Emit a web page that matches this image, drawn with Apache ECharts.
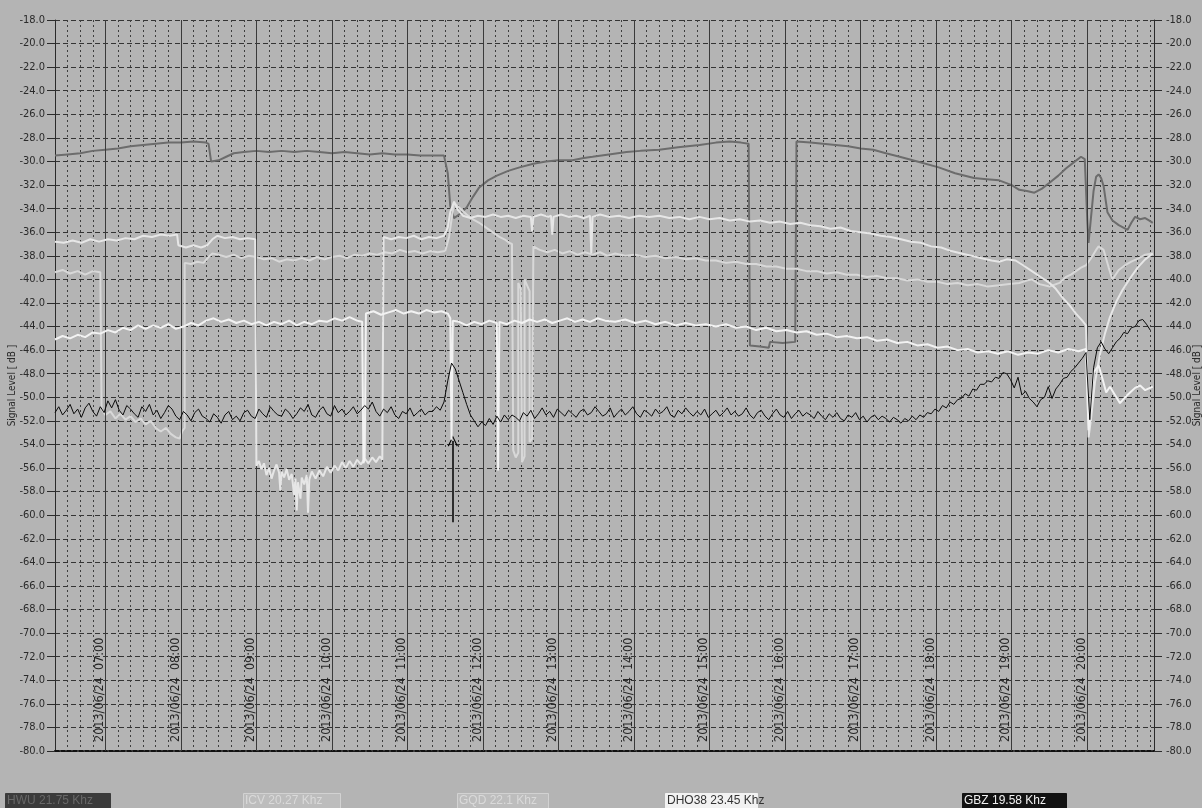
<!DOCTYPE html>
<html><head><meta charset="utf-8">
<script src="https://cdn.jsdelivr.net/npm/echarts@6/dist/echarts.min.js"></script>
<style>html,body{margin:0;padding:0;background:#b4b4b4}#c{width:1202px;height:808px}</style>
</head><body><div id="c"></div>
<script>
// ---------------- DATA ----------------
const DATE = '2013/06/24';
const xStart = '06:20';
const xEnd = '20:53';
const hourTicks = ['07:00','08:00','09:00','10:00','11:00','12:00','13:00','14:00','15:00','16:00','17:00','18:00','19:00','20:00'];
const yMin = -80, yMax = -18, yStep = 2;
const yName = 'Signal Level [ dB ]';
const legendNames = ['HWU 21.75 Khz','ICV 20.27 Khz','GQD 22.1 Khz','DHO38 23.45 Khz','GBZ 19.58 Khz'];

// GBZ (black) sampled every 3 minutes from 06:20
const gbzStart = '06:20';
const gbzStep = 3;
const gbzValues = [
 -51.3,-50.8,-51.5,-51.1,-50.6,-51.4,-51.0,-51.7,-50.9,-50.5,-51.2,-51.6,-50.8,-51.3,-50.3,-50.9,-50.2,-51.1,-51.5,-50.7,
 -51.0,-51.4,-51.7,-50.8,-51.2,-50.6,-51.5,-51.1,-51.8,-51.3,-50.7,-51.0,-51.6,-51.9,-51.2,-51.5,-52.0,-51.3,-51.0,-51.6,
 -51.8,-52.1,-51.4,-51.7,-52.2,-51.5,-51.2,-51.9,-51.6,-52.0,-51.3,-51.1,-51.6,-51.8,-51.0,-51.4,-51.7,-50.8,-51.2,-51.5,
 -51.6,-51.0,-51.3,-51.8,-51.4,-50.9,-51.2,-50.6,-51.5,-51.7,-51.1,-50.8,-51.4,-51.6,-50.7,-51.3,-51.0,-51.5,-51.2,-50.8,
 -51.4,-51.1,-50.7,-51.0,-50.4,-51.2,-51.6,-51.0,-51.3,-50.8,-51.5,-51.8,-51.2,-51.4,-50.9,-51.6,-51.3,-51.0,-51.5,-51.2,
 -51.2,-50.8,-51.1,-50.4,-48.6,-47.1,-47.6,-48.6,-49.6,-50.6,-51.5,-52.0,-52.5,-52.1,-52.4,-51.8,-52.3,-51.6,-52.1,-51.5,
 -51.9,-51.5,-51.7,-52.0,-51.3,-51.6,-51.1,-51.8,-51.4,-50.9,-51.5,-51.2,-51.7,-51.0,-51.3,-51.6,-51.1,-51.4,-51.7,-51.2,
 -51.0,-51.5,-51.3,-50.8,-51.2,-51.6,-51.4,-50.9,-51.7,-51.3,-51.0,-51.5,-51.2,-50.8,-51.4,-51.7,-51.1,-51.3,-51.6,-51.0,
 -51.4,-51.2,-50.8,-51.5,-51.7,-51.1,-51.4,-50.9,-51.3,-51.6,-51.2,-51.5,-51.0,-51.7,-51.4,-51.1,-51.6,-51.3,-50.9,-51.5,
 -51.2,-51.6,-51.4,-50.9,-51.5,-51.8,-51.3,-51.1,-51.6,-51.9,-51.4,-51.0,-51.5,-51.7,-51.2,-51.8,-51.4,-51.1,-51.6,-51.3,
 -51.5,-51.8,-51.2,-51.6,-51.9,-51.4,-51.7,-51.3,-51.8,-52.0,-51.5,-51.7,-51.3,-51.9,-51.6,-52.1,-51.7,-51.5,-51.9,-51.6,
 -51.8,-52.1,-51.7,-51.9,-52.2,-51.8,-52.0,-51.6,-51.9,-51.5,-51.7,-51.3,-51.4,-51.0,-51.2,-50.7,-50.9,-50.4,-50.6,-50.2,
 -50.1,-49.7,-49.9,-49.3,-49.4,-48.9,-48.9,-48.6,-48.7,-48.3,-48.4,-47.9,-48.0,-48.5,-49.2,-48.3,-49.8,-49.5,-50.1,-50.4,
 -50.8,-50.2,-50.0,-49.1,-50.1,-49.3,-48.9,-48.4,-48.3,-47.8,-47.5,-47.1,-46.7,-46.2,-51.9,-47.5,-45.8,-45.3,-45.9,-46.3,
 -45.8,-45.3,-45.0,-44.5,-44.6,-44.1,-44.0,-43.5,-43.4,-43.8,-44.3
];

// HWU (dark grey) [time, dB]
const hwuPoints = [
 ['06:20',-29.5],['06:30',-29.4],['06:40',-29.3],['06:50',-29.1],['07:00',-29.0],['07:10',-28.9],['07:20',-28.7],['07:30',-28.6],
 ['07:40',-28.5],['07:50',-28.4],['08:00',-28.4],['08:10',-28.3],['08:20',-28.4],['08:22',-28.5],['08:24',-30.0],['08:30',-29.9],
 ['08:36',-29.6],['08:42',-29.3],['08:50',-29.2],['09:00',-29.1],['09:10',-29.2],['09:20',-29.1],['09:30',-29.2],['09:40',-29.1],
 ['09:50',-29.2],['10:00',-29.3],['10:10',-29.2],['10:20',-29.3],['10:30',-29.4],['10:40',-29.3],['10:50',-29.4],['11:00',-29.4],
 ['11:10',-29.5],['11:20',-29.5],['11:29',-29.5],['11:32',-31.0],['11:34',-33.8],['11:37',-34.8],['11:41',-34.5],['11:47',-33.9],
 ['11:52',-33.0],['11:57',-32.2],['12:04',-31.6],['12:11',-31.2],['12:20',-30.8],['12:29',-30.5],['12:40',-30.2],['12:50',-30.0],
 ['13:00',-29.9],['13:11',-29.9],['13:20',-29.7],['13:27',-29.6],['13:40',-29.4],['13:54',-29.2],['14:05',-29.1],['14:20',-29.0],
 ['14:35',-28.8],['14:52',-28.6],['15:05',-28.4],['15:16',-28.3],['15:25',-28.4],['15:31',-28.5],['15:32',-45.6],['15:40',-45.7],
 ['15:47',-45.8],['15:48',-45.3],['15:58',-45.4],['16:08',-45.3],['16:09',-28.3],['16:20',-28.4],['16:30',-28.5],['16:40',-28.6],
 ['16:50',-28.7],['17:00',-28.9],['17:10',-29.0],['17:20',-29.3],['17:31',-29.6],['17:45',-30.0],['18:02',-30.5],['18:15',-31.0],
 ['18:30',-31.4],['18:40',-31.5],['18:50',-31.6],['19:00',-32.0],['19:06',-32.4],['19:12',-32.5],['19:18',-32.65],['19:24',-32.3],
 ['19:30',-31.8],['19:37',-31.2],['19:43',-30.6],['19:49',-30.1],['19:55',-29.6],['19:58',-29.8],['19:59',-29.9],['20:00',-35.0],
 ['20:01',-36.9],['20:03',-34.7],['20:05',-32.5],['20:07',-31.3],['20:09',-31.1],['20:11',-31.4],['20:13',-32.1],['20:16',-34.3],
 ['20:20',-35.0],['20:25',-35.4],['20:32',-35.8],['20:35',-35.2],['20:38',-34.7],['20:42',-34.9],['20:46',-34.8],['20:49',-35.0],['20:52',-35.2]
];

// ICV (light grey) [time, dB]
const icvPoints = [
 ['06:20',-39.4],['06:26',-39.2],['06:32',-39.5],['06:38',-39.3],['06:44',-39.6],['06:50',-39.3],['06:56',-39.4],['06:57',-51.0],
 ['07:00',-51.5],['07:04',-51.2],['07:08',-51.8],['07:12',-51.4],['07:16',-51.9],['07:20',-51.6],['07:24',-52.1],['07:28',-51.8],
 ['07:32',-52.3],['07:36',-52.0],['07:40',-52.6],['07:44',-52.9],['07:48',-52.6],['07:52',-53.1],['07:56',-53.4],['07:59',-53.5],
 ['08:01',-52.9],['08:03',-52.6],['08:03',-38.6],['08:08',-38.7],['08:13',-38.5],['08:18',-38.6],['08:22',-38.1],['08:25',-37.8],
 ['08:30',-37.9],['08:36',-38.1],['08:42',-37.9],['08:48',-38.2],['08:54',-38.0],['09:00',-38.1],['09:06',-38.3],['09:12',-38.2],
 ['09:18',-38.5],['09:24',-38.3],['09:30',-38.4],['09:36',-38.2],['09:42',-38.4],['09:48',-38.1],['09:54',-38.3],['10:00',-38.1],
 ['10:06',-38.0],['10:12',-38.2],['10:18',-37.9],['10:24',-38.0],['10:30',-37.8],['10:36',-37.9],['10:42',-37.7],['10:48',-37.8],
 ['10:54',-37.5],['11:00',-37.7],['11:06',-37.6],['11:12',-37.8],['11:18',-37.6],['11:24',-37.7],['11:30',-37.6],['11:33',-36.4],
 ['11:35',-34.9],['11:37',-33.5],['11:41',-33.9],['11:47',-34.5],['11:52',-34.9],['11:57',-35.2],['12:01',-35.5],['12:05',-35.8],
 ['12:09',-36.1],['12:13',-36.4],['12:17',-36.6],['12:21',-36.9],['12:23',-37.0],['12:24',-54.5],['12:26',-55.1],['12:28',-54.7],
 ['12:28',-40.3],['12:30',-40.8],['12:31',-55.5],['12:33',-55.0],['12:33',-40.0],['12:35',-40.5],['12:37',-41.0],['12:37',-53.8],
 ['12:39',-53.5],['12:40',-37.2],['12:45',-37.5],['12:51',-37.7],['12:57',-37.5],['13:03',-37.8],['13:09',-37.6],['13:15',-37.9],
 ['13:21',-37.7],['13:27',-37.9],['13:33',-37.7],['13:39',-38.0],['13:45',-37.8],['13:53',-38.0],['14:01',-37.9],['14:09',-38.1],
 ['14:17',-38.0],['14:25',-38.2],['14:33',-38.1],['14:41',-38.3],['14:49',-38.2],['14:57',-38.4],['15:05',-38.4],['15:13',-38.6],
 ['15:21',-38.5],['15:29',-38.7],['15:37',-38.7],['15:45',-38.9],['15:53',-38.9],['16:01',-39.1],['16:09',-39.1],['16:17',-39.3],
 ['16:25',-39.3],['16:33',-39.5],['16:41',-39.4],['16:49',-39.6],['16:57',-39.6],['17:05',-39.8],['17:13',-39.7],['17:21',-39.9],
 ['17:29',-39.9],['17:37',-40.1],['17:45',-40.0],['17:53',-40.2],['18:01',-40.2],['18:09',-40.4],['18:17',-40.3],['18:25',-40.5],
 ['18:33',-40.4],['18:41',-40.6],['18:50',-40.5],['18:58',-40.4],['19:06',-40.3],['19:12',-40.1],['19:16',-40.0],['19:22',-40.4],
 ['19:30',-40.6],['19:38',-40.3],['19:43',-39.8],['19:47',-39.6],['19:51',-39.3],['19:55',-39.0],['19:59',-38.8],['20:03',-38.2],
 ['20:07',-37.5],['20:09',-37.2],['20:13',-37.5],['20:17',-39.0],['20:20',-40.0],['20:25',-39.2],['20:30',-38.8],['20:35',-38.5],
 ['20:41',-38.2],['20:46',-37.9],['20:52',-37.8]
];

// GQD (very light grey) [time, dB]
const gqdPoints = [
 ['06:20',-36.8],['06:27',-36.9],['06:34',-36.7],['06:41',-36.9],['06:48',-36.6],['06:55',-36.8],['07:02',-36.6],['07:09',-36.7],
 ['07:16',-36.5],['07:23',-36.6],['07:30',-36.3],['07:37',-36.4],['07:44',-36.2],['07:51',-36.3],['07:57',-36.2],['07:58',-37.1],
 ['08:04',-37.3],['08:10',-37.1],['08:16',-37.3],['08:21',-37.1],['08:25',-36.6],['08:29',-36.3],['08:35',-36.5],['08:41',-36.4],
 ['08:47',-36.6],['08:53',-36.5],['08:59',-36.6],['09:00',-55.8],['09:02',-55.4],['09:04',-56.1],['09:06',-55.6],['09:08',-56.6],
 ['09:10',-56.0],['09:12',-56.9],['09:14',-56.2],['09:16',-55.7],['09:18',-56.4],['09:19',-57.9],['09:20',-56.3],['09:22',-56.8],
 ['09:24',-56.1],['09:26',-57.0],['09:28',-56.5],['09:30',-58.3],['09:31',-56.9],['09:32',-59.6],['09:33',-57.2],['09:35',-58.6],
 ['09:36',-56.8],['09:38',-57.4],['09:40',-56.6],['09:41',-59.8],['09:42',-57.0],['09:44',-56.3],['09:47',-56.9],['09:50',-56.2],
 ['09:53',-56.7],['09:56',-55.9],['09:59',-56.4],['10:02',-55.8],['10:05',-56.2],['10:08',-55.5],['10:11',-56.0],['10:14',-55.4],
 ['10:17',-55.9],['10:20',-55.3],['10:23',-55.7],['10:26',-55.2],['10:29',-55.6],['10:32',-55.1],['10:35',-55.5],['10:38',-55.0],
 ['10:40',-55.3],['10:41',-36.4],['10:47',-36.6],['10:53',-36.4],['10:59',-36.5],['11:05',-36.3],['11:11',-36.6],['11:17',-36.4],
 ['11:23',-36.5],['11:29',-36.3],['11:32',-35.6],['11:34',-34.3],['11:37',-33.4],['11:40',-34.1],['11:44',-34.6],['11:50',-34.8],
 ['11:56',-34.6],['12:02',-34.7],['12:08',-34.5],['12:14',-34.7],['12:20',-34.6],['12:26',-34.8],['12:32',-34.6],['12:38',-34.7],
 ['12:39',-35.9],['12:40',-34.7],['12:46',-34.5],['12:52',-34.7],['12:54',-34.6],['12:55',-36.2],['12:56',-34.7],['13:02',-34.5],
 ['13:08',-34.7],['13:14',-34.6],['13:20',-34.8],['13:25',-34.6],['13:26',-37.8],['13:27',-34.7],['13:33',-34.5],['13:40',-34.7],
 ['13:48',-34.6],['13:56',-34.8],['14:04',-34.6],['14:12',-34.7],['14:20',-34.6],['14:28',-34.8],['14:36',-34.7],['14:44',-34.9],
 ['14:52',-34.7],['15:00',-34.9],['15:08',-34.8],['15:16',-35.0],['15:24',-34.9],['15:32',-35.1],['15:40',-35.0],['15:48',-35.2],
 ['15:56',-35.1],['16:04',-35.3],['16:12',-35.2],['16:20',-35.4],['16:28',-35.5],['16:36',-35.7],['16:44',-35.6],['16:52',-35.9],
 ['17:00',-36.0],['17:08',-36.1],['17:16',-36.3],['17:24',-36.4],['17:32',-36.6],['17:40',-36.8],['17:48',-36.9],['17:56',-37.2],
 ['18:04',-37.3],['18:12',-37.6],['18:20',-37.8],['18:28',-38.0],['18:36',-38.2],['18:44',-38.4],['18:50',-38.5],['18:56',-38.3],
 ['19:03',-38.4],['19:09',-38.8],['19:16',-39.3],['19:23',-39.8],['19:30',-40.3],['19:35',-40.8],['19:40',-41.5],['19:46',-42.2],
 ['19:51',-42.9],['19:56',-43.5],['19:59',-43.9],['20:01',-53.4],['20:03',-51.8],['20:06',-48.8],['20:10',-46.4],['20:14',-44.6],
 ['20:18',-43.2],['20:23',-41.9],['20:28',-40.9],['20:34',-39.9],['20:40',-39.0],['20:46',-38.3],['20:52',-37.8]
];

// DHO38 (white) [time, dB]
const dhoPoints = [
 ['06:20',-45.1],['06:26',-44.8],['06:32',-45.0],['06:38',-44.7],['06:44',-44.9],['06:50',-44.5],['06:56',-44.6],['07:02',-44.3],
 ['07:08',-44.5],['07:14',-44.1],['07:20',-44.3],['07:26',-43.9],['07:32',-44.2],['07:38',-43.9],['07:44',-44.1],['07:50',-43.8],
 ['07:56',-44.2],['08:02',-44.0],['08:08',-43.7],['08:14',-43.9],['08:20',-43.5],['08:26',-43.3],['08:32',-43.6],['08:38',-43.4],
 ['08:44',-43.7],['08:50',-43.5],['08:56',-43.8],['09:02',-43.6],['09:08',-43.9],['09:14',-43.6],['09:20',-43.8],['09:26',-43.5],
 ['09:32',-43.9],['09:38',-43.6],['09:44',-43.8],['09:50',-43.5],['09:56',-43.6],['10:02',-43.3],['10:08',-43.5],['10:14',-43.2],
 ['10:20',-43.5],['10:24',-43.6],['10:25',-55.6],['10:26',-55.2],['10:27',-42.9],['10:33',-42.7],['10:39',-43.0],['10:45',-42.8],
 ['10:51',-42.6],['10:57',-42.9],['11:03',-42.7],['11:09',-42.9],['11:15',-42.6],['11:21',-42.8],['11:27',-42.7],['11:32',-42.9],
 ['11:34',-43.3],['11:35',-53.6],['11:36',-43.5],['11:41',-43.6],['11:47',-43.9],['11:53',-43.6],['11:59',-43.8],['12:05',-43.5],
 ['12:11',-43.7],['12:12',-56.2],['12:13',-43.6],['12:19',-43.8],['12:25',-43.5],['12:31',-43.7],['12:37',-43.4],['12:43',-43.6],
 ['12:49',-43.4],['12:55',-43.7],['13:01',-43.5],['13:07',-43.3],['13:13',-43.6],['13:19',-43.4],['13:25',-43.6],['13:31',-43.3],
 ['13:37',-43.5],['13:45',-43.6],['13:53',-43.4],['14:01',-43.7],['14:09',-43.5],['14:17',-43.8],['14:25',-43.6],['14:33',-43.9],
 ['14:41',-43.7],['14:49',-43.9],['14:57',-43.8],['15:05',-44.0],['15:13',-43.8],['15:21',-44.1],['15:29',-44.0],['15:37',-44.3],
 ['15:45',-44.1],['15:53',-44.4],['16:01',-44.3],['16:09',-44.5],['16:17',-44.4],['16:25',-44.7],['16:33',-44.6],['16:41',-44.9],
 ['16:49',-44.8],['16:57',-45.0],['17:05',-44.9],['17:13',-45.2],['17:21',-45.1],['17:29',-45.4],['17:37',-45.3],['17:45',-45.6],
 ['17:53',-45.5],['18:01',-45.8],['18:09',-45.7],['18:17',-46.0],['18:25',-45.9],['18:33',-46.2],['18:41',-46.1],['18:49',-46.3],
 ['18:57',-46.1],['19:05',-46.4],['19:13',-46.2],['19:21',-46.3],['19:29',-46.0],['19:37',-46.2],['19:45',-45.9],['19:53',-46.1],
 ['19:59',-45.9],['20:01',-52.8],['20:03',-50.5],['20:05',-47.9],['20:09',-47.3],['20:12',-48.4],['20:15',-49.6],['20:18',-49.1],
 ['20:22',-49.8],['20:26',-50.5],['20:30',-50.0],['20:34',-49.6],['20:38',-49.2],['20:42',-49.0],['20:46',-49.4],['20:52',-49.1]
];

// annotation arrow
const arrowAt = '11:36', arrowFrom = -60.6, arrowTo = -53.7;

// ---------------- BUILD ----------------
function toMin(s){ const p = s.split(':'); return (+p[0])*60 + (+p[1]); }
function pts(a){ return a.map(function(d){ return [toMin(d[0]), d[1]]; }); }
const gbzData = gbzValues.map(function(v,i){ return [toMin(gbzStart) + i*gbzStep, v]; });

const NARROW = '"Liberation Sans Narrow","DejaVu Sans Condensed","Liberation Sans",sans-serif';
const REG = '"Liberation Sans",Arial,sans-serif';

function hourLabel(v){
  if (v % 60 !== 0) return '';
  const h = Math.round(v/60);
  return DATE + '  ' + (h < 10 ? '0' + h : '' + h) + ':00';
}
function yLabel(v){ return v.toFixed(1); }

function line(name, data, color, width, z){
  return { name: name, type: 'line', data: data, symbol: 'none', showSymbol: false,
    lineStyle: { color: color, width: width }, itemStyle: { color: color },
    z: z, silent: true, animation: false };
}

const legendBoxes = [
  { x: 5,   w: 105, fill: '#3b3b3b', stroke: '#3b3b3b', text: '#686868' },
  { x: 243, w: 97,  fill: '#bdbdbd', stroke: '#d2d2d2', text: '#dadada' },
  { x: 457, w: 91,  fill: '#bdbdbd', stroke: '#d2d2d2', text: '#dadada' },
  { x: 665, w: 92,  fill: '#f2f2f2', stroke: '#f2f2f2', text: '#333333' },
  { x: 962, w: 104, fill: '#121212', stroke: '#121212', text: '#f2f2f2' }
];
const graphic = [];
legendBoxes.forEach(function(b, i){
  graphic.push({ type: 'rect', left: b.x, top: 793, shape: { width: b.w, height: 17 },
    style: { fill: b.fill, stroke: b.stroke, lineWidth: 1 }, silent: true });
  graphic.push({ type: 'text', left: b.x + 2, top: 795,
    style: { text: legendNames[i], fill: b.text, font: '12px ' + REG }, silent: true });
});

const yAxisCommon = {
  type: 'value', min: yMin, max: yMax, interval: yStep,
  name: yName, nameLocation: 'middle', nameRotate: 90, nameMoveOverlap: false,
  nameTextStyle: { color: '#2a2a2a', fontFamily: NARROW, fontSize: 10 },
  axisLine: { show: true, onZero: false, lineStyle: { color: '#2a2a2a', width: 1 } },
  axisTick: { show: true, length: 8, lineStyle: { color: '#2a2a2a' } },
  axisLabel: { color: '#2a2a2a', fontFamily: NARROW, fontSize: 11, formatter: yLabel }
};

const option = {
  backgroundColor: '#b4b4b4',
  animation: false,
  grid: { left: 55, right: 48, top: 20, bottom: 57, containLabel: false, outerBoundsMode: 'none' },
  xAxis: {
    type: 'value', min: toMin(xStart), max: toMin(xEnd), interval: 10,
    axisLine: { show: true, onZero: false, lineStyle: { color: '#111', width: 2, type: [4, 2] } },
    axisTick: { show: false },
    axisLabel: { show: true, inside: true, rotate: 90, margin: 9, formatter: hourLabel,
      verticalAlign: 'bottom', align: 'left', lineHeight: 11,
      color: '#262626', fontFamily: NARROW, fontSize: 12.5 },
    splitLine: { show: true, lineStyle: { color: '#3e3e3e', width: 1, type: [2, 3] } }
  },
  yAxis: [
    Object.assign({}, yAxisCommon, { position: 'left', nameGap: 38,
      splitLine: { show: true, lineStyle: { color: '#343434', width: 1, type: [5, 3] } },
      axisLabel: Object.assign({}, yAxisCommon.axisLabel, { margin: 10 }) }),
    Object.assign({}, yAxisCommon, { position: 'right', nameGap: 38, splitLine: { show: false },
      axisLabel: Object.assign({}, yAxisCommon.axisLabel, { margin: 12 }) })
  ],
  graphic: graphic,
  series: [
    { type: 'line', data: [], z: 1, silent: true,
      markLine: { silent: true, symbol: ['none', 'none'], label: { show: false }, animation: false,
        lineStyle: { color: '#3a3a3a', width: 1, type: 'solid' },
        emphasis: { disabled: true },
        data: hourTicks.map(function(t){ return { xAxis: toMin(t) }; }) } },
    line(legendNames[0], pts(hwuPoints), '#6c6c6c', 2, 3),
    line(legendNames[1], pts(icvPoints), '#d8d8d8', 2, 4),
    line(legendNames[2], pts(gqdPoints), '#e6e6e6', 2, 5),
    line(legendNames[3], pts(dhoPoints), '#f2f2f2', 2, 6),
    line(legendNames[4], gbzData, '#0a0a0a', 1, 7),
    { type: 'line', data: [], z: 10, silent: true,
      markLine: { silent: true, animation: false, label: { show: false },
        symbol: ['none', 'path://M0,10 L5,0 L10,10 L9,10.6 L5,2.2 L1,10.6 Z'], symbolSize: [10, 11],
        lineStyle: { color: '#000', width: 1.5, type: 'solid' },
        emphasis: { disabled: true },
        data: [[ { coord: [toMin(arrowAt), arrowFrom] }, { coord: [toMin(arrowAt), arrowTo] } ]] } }
  ]
};

const chart = echarts.init(document.getElementById('c'), null, { renderer: 'canvas' });
chart.setOption(option);
</script>
</body></html>
